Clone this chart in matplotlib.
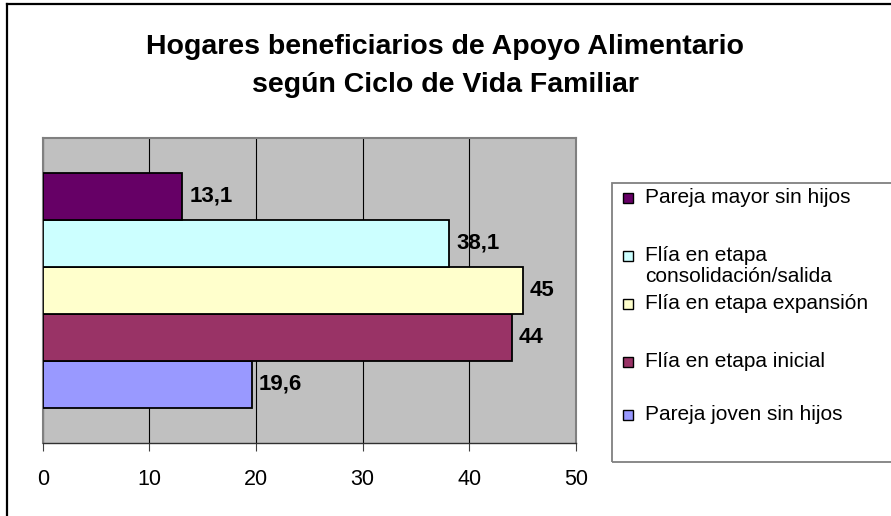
import matplotlib
matplotlib.use("Agg")
import matplotlib.pyplot as plt
from matplotlib.patches import Rectangle
from matplotlib.lines import Line2D

plt.rcParams['font.family'] = ['Liberation Sans', 'DejaVu Sans']

title = "Hogares beneficiarios de Apoyo Alimentario\nsegún Ciclo de Vida Familiar"
# bottom-to-top order in the chart
categories = ["Pareja joven sin hijos", "Flía en etapa inicial", "Flía en etapa expansión",
              "Flía en etapa\nconsolidación/salida", "Pareja mayor sin hijos"]
values = [19.6, 44, 45, 38.1, 13.1]
value_labels = ["19,6", "44", "45", "38,1", "13,1"]
colors = ["#9999FF", "#993366", "#FFFFCC", "#CCFFFF", "#660066"]
xticks = [0, 10, 20, 30, 40, 50]

W, H = 891, 516
fig = plt.figure(figsize=(W / 100, H / 100), dpi=100)

def fx(px):
    return px / W

def fy(py):
    return 1 - py / H

# outer chart border (left and top visible)
fig.add_artist(Line2D([fx(7), fx(7)], [fy(4), fy(520)], color='black', lw=1.6,
                      transform=fig.transFigure))
fig.add_artist(Line2D([fx(7), fx(900)], [fy(4), fy(4)], color='black', lw=1.6,
                      transform=fig.transFigure))

left, right, top, bottom = 42.7, 576, 137.7, 442.7
ax = fig.add_axes([fx(left), fy(bottom), fx(right - left), (bottom - top) / H])
ax.set_facecolor('#C0C0C0')

pos = list(range(len(values)))
ax.barh(pos, values, height=1.0, color=colors, edgecolor='black', linewidth=1.3, zorder=3)
for p, v, lab in zip(pos, values, value_labels):
    ax.annotate(lab, (v, p), xytext=(7, 0), textcoords='offset pixels',
                va='center', ha='left', fontsize=16, fontweight='bold', zorder=4)

ax.set_xlim(0, 50)
ax.set_ylim(-0.5 - 0.74, len(values) - 0.5 + 0.74)
ax.set_xticks(xticks)
ax.set_xticklabels([str(t) for t in xticks], fontsize=15.5)
ax.set_yticks([])
ax.grid(axis='x', color='black', lw=0.8, zorder=1)
ax.tick_params(axis='x', length=6, width=0.8, color='#404040', pad=13)
for s in ['left', 'top', 'right']:
    ax.spines[s].set_color('#808080')
    ax.spines[s].set_linewidth(1.5)
ax.spines['bottom'].set_color('#303030')
ax.spines['bottom'].set_linewidth(1.0)

# title
fig.text(fx(445), fy(66), title, ha='center', va='center', fontsize=20.5,
         fontweight='bold', linespacing=1.6)

# legend
fig.add_artist(Rectangle((fx(612), fy(462)), fx(300), (462 - 183) / H, fill=False,
                         edgecolor='#808080', lw=1.3, transform=fig.transFigure))
leg_y = [198, 256, 304, 362, 415]
for i, (cat, col) in enumerate(zip(categories[::-1], colors[::-1])):
    y = leg_y[i]
    fig.add_artist(Rectangle((fx(623), fy(y + 5)), fx(10), 10 / H, facecolor=col,
                             edgecolor='black', lw=1.0, transform=fig.transFigure))
    fig.text(fx(645), fy(y - 10), cat, ha='left', va='top', fontsize=15, linespacing=1.1)

fig.savefig("out.png", dpi=100)
